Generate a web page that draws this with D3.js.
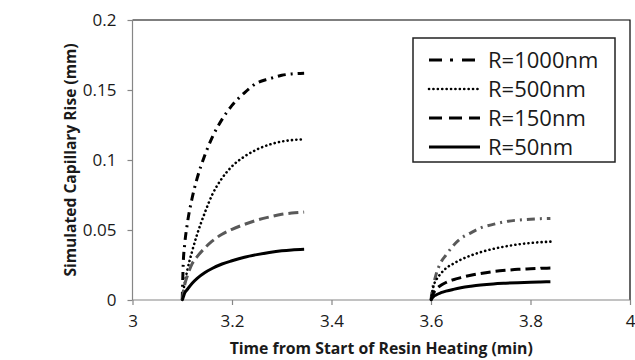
<!DOCTYPE html>
<html>
<head>
<meta charset="utf-8">
<script src="https://cdn.jsdelivr.net/npm/d3@7"></script>
<style>
  html, body { margin: 0; padding: 0; background: #fff; }
  svg { display: block; font-family: "Open Sans", "Liberation Sans", sans-serif; }
</style>
</head>
<body>
<svg id="chart" width="635" height="360"></svg>
<script>
// Heating stage 1 and stage 2 time samples (min)
const timesStage1 = [3.100, 3.102, 3.105, 3.110, 3.120, 3.130, 3.145, 3.160, 3.180, 3.200, 3.225, 3.250, 3.275, 3.300, 3.320, 3.345];
const timesStage2 = [3.600, 3.602, 3.605, 3.610, 3.620, 3.630, 3.645, 3.660, 3.680, 3.700, 3.725, 3.750, 3.775, 3.800, 3.820, 3.840];

// Simulated capillary rise (mm), stage 1
const rise1000Stage1 = [0, 0.026, 0.040, 0.054, 0.073, 0.087, 0.103, 0.116, 0.129, 0.139, 0.148, 0.155, 0.158, 0.1605, 0.1615, 0.162];
const rise500Stage1  = [0, 0.006, 0.012, 0.021, 0.035, 0.047, 0.062, 0.075, 0.087, 0.0955, 0.1025, 0.1075, 0.111, 0.1132, 0.1142, 0.1148];
const rise150Stage1  = [0, 0.005, 0.011, 0.017, 0.026, 0.031, 0.037, 0.042, 0.047, 0.0505, 0.054, 0.057, 0.0593, 0.0612, 0.0621, 0.0628];
const rise50Stage1   = [0, 0.002, 0.005, 0.0075, 0.012, 0.0155, 0.0195, 0.0225, 0.0257, 0.028, 0.0305, 0.0324, 0.034, 0.0352, 0.0358, 0.0362];

// Simulated capillary rise (mm), stage 2
const rise1000Stage2 = [0, 0.006, 0.011, 0.018, 0.027, 0.032, 0.039, 0.044, 0.048, 0.0515, 0.054, 0.056, 0.0571, 0.0577, 0.0581, 0.0583];
const rise500Stage2  = [0, 0.005, 0.010, 0.014, 0.019, 0.0226, 0.026, 0.0288, 0.0318, 0.0342, 0.0365, 0.0383, 0.0397, 0.0407, 0.0413, 0.0417];
const rise150Stage2  = [0, 0.0025, 0.005, 0.0075, 0.0105, 0.0125, 0.0145, 0.016, 0.0177, 0.019, 0.0203, 0.0212, 0.0219, 0.0223, 0.0226, 0.0228];
const rise50Stage2   = [0, 0.0012, 0.0024, 0.0036, 0.0052, 0.0063, 0.0076, 0.0087, 0.0098, 0.0107, 0.0115, 0.012, 0.0124, 0.0127, 0.0129, 0.013];

const legendLabels = ["R=1000nm", "R=500nm", "R=150nm", "R=50nm"];
const xTicks = [3, 3.2, 3.4, 3.6, 3.8, 4];
const yTicks = [0, 0.05, 0.1, 0.15, 0.2];

const DARK = "#000000", GREY = "#595959";
const styles = {
  dashdot: { dash: "8,5,2,5", width: 3, cap: "butt" },
  dot:     { dash: "0.1,4.3", width: 2.6, cap: "round" },
  dash:    { dash: "10,5", width: 3, cap: "butt" },
  solid:   { dash: null, width: 3, cap: "butt" }
};

const series = [
  { t: timesStage1, v: rise1000Stage1, style: "dashdot", color: DARK },
  { t: timesStage1, v: rise500Stage1,  style: "dot",     color: DARK },
  { t: timesStage1, v: rise150Stage1,  style: "dash",    color: GREY },
  { t: timesStage1, v: rise50Stage1,   style: "solid",   color: DARK },
  { t: timesStage2, v: rise1000Stage2, style: "dashdot", color: GREY },
  { t: timesStage2, v: rise500Stage2,  style: "dot",     color: DARK },
  { t: timesStage2, v: rise150Stage2,  style: "dash",    color: DARK },
  { t: timesStage2, v: rise50Stage2,   style: "solid",   color: DARK }
];

const svg = d3.select("#chart");
const plot = { left: 132.5, right: 630, top: 20, bottom: 300 };

const x = d3.scaleLinear().domain([3, 4]).range([plot.left, plot.right]);
const y = d3.scaleLinear().domain([0, 0.2]).range([plot.bottom, plot.top]);

// Plot-area frame (top and right edges)
svg.append("path")
  .attr("d", `M${plot.left},${plot.top}H${plot.right}V${plot.bottom}`)
  .attr("fill", "none").attr("stroke", "#000").attr("stroke-width", 1.2);

const fmt = d => d3.format("")(d);

// Y axis
const yAxis = svg.append("g")
  .attr("transform", `translate(${plot.left},0)`)
  .call(d3.axisLeft(y).tickValues(yTicks).tickFormat(fmt).tickSize(5).tickPadding(11));
// X axis
const xAxis = svg.append("g")
  .attr("transform", `translate(0,${plot.bottom})`)
  .call(d3.axisBottom(x).tickValues(xTicks).tickFormat(fmt).tickSize(5).tickPadding(10));

[yAxis, xAxis].forEach(g => {
  g.select(".domain").attr("stroke", "#868686").attr("stroke-width", 1.2);
  g.selectAll(".tick line").attr("stroke", "#868686").attr("stroke-width", 1.2);
  g.selectAll(".tick text").attr("fill", "#1a1a1a").style("font-size", "17px")
   .style("font-family", "'Open Sans', sans-serif");
});
xAxis.select(".domain").attr("d", `M${plot.left},0H${plot.right}`);
yAxis.select(".domain").attr("d", `M0,${plot.bottom}V${plot.top}`);

// Curves
const line = d3.line().x(d => x(d[0])).y(d => y(d[1])).curve(d3.curveMonotoneX);
series.forEach(s => {
  const st = styles[s.style];
  svg.append("path")
    .datum(s.t.map((t, i) => [t, s.v[i]]))
    .attr("d", line)
    .attr("fill", "none")
    .attr("stroke", s.color)
    .attr("stroke-width", st.width)
    .attr("stroke-dasharray", st.dash)
    .attr("stroke-linecap", st.cap);
});

// Axis titles
svg.append("text")
  .attr("x", (plot.left + plot.right) / 2).attr("y", 354)
  .attr("text-anchor", "middle")
  .style("font-weight", "bold").style("font-size", "15.8px").attr("fill", "#1a1a1a")
  .text("Time from Start of Resin Heating (min)");

svg.append("text")
  .attr("transform", `translate(76,${(plot.top + plot.bottom) / 2}) rotate(-90)`)
  .attr("text-anchor", "middle")
  .style("font-weight", "bold").style("font-size", "15.6px").attr("fill", "#1a1a1a")
  .text("Simulated Capillary Rise (mm)");

// Legend
const legend = svg.append("g");
legend.append("rect")
  .attr("x", 413).attr("y", 38).attr("width", 202).attr("height", 124)
  .attr("fill", "#fff").attr("stroke", "#222").attr("stroke-width", 1.5);

const legendStyles = [
  { dash: "13,8,3,9", width: 3, cap: "butt" },
  { dash: "0.1,4.3", width: 2.6, cap: "round" },
  { dash: "13,7", width: 3, cap: "butt" },
  { dash: null, width: 3, cap: "butt" }
];
const rowY = d3.scaleLinear().domain([0, 3]).range([60, 147]);
legendLabels.forEach((lab, i) => {
  const ly = rowY(i);
  legend.append("line")
    .attr("x1", 429).attr("x2", 480).attr("y1", ly).attr("y2", ly)
    .attr("stroke", "#000").attr("stroke-width", legendStyles[i].width)
    .attr("stroke-dasharray", legendStyles[i].dash)
    .attr("stroke-linecap", legendStyles[i].cap);
  legend.append("text")
    .attr("x", 488).attr("y", ly).attr("dy", "0.35em")
    .style("font-size", "22px").attr("fill", "#1a1a1a")
    .text(lab);
});
</script>
</body>
</html>
